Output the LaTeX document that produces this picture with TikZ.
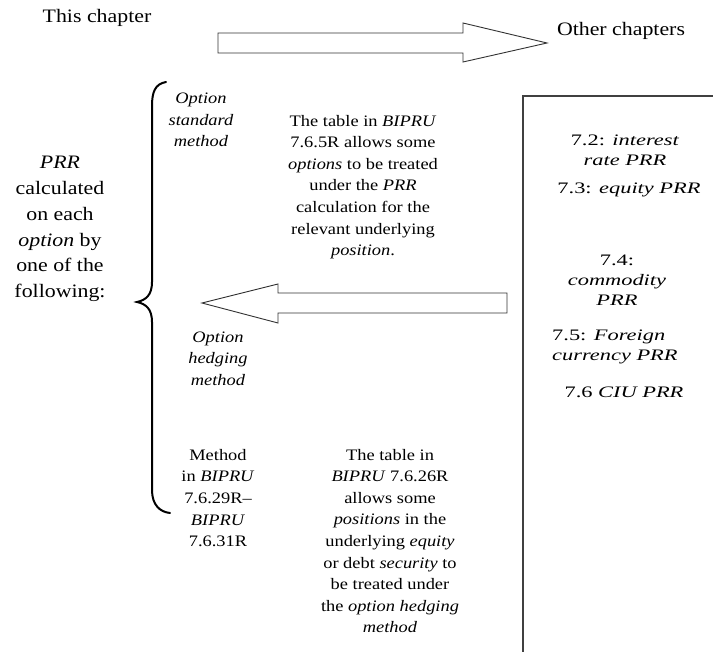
\documentclass[tikz,border=0pt]{standalone}
\usepackage{fontspec}
\setmainfont{Liberation Serif}
\newfontfamily\midfont[FakeStretch=1.15]{Liberation Serif}
\newfontfamily\widefont[FakeStretch=1.4]{Liberation Serif}
\begin{document}
\begin{tikzpicture}[x=1pt,y=-1pt,
  txt/.style={inner sep=0pt, align=center, font=\midfont\fontsize{16}{21.6}\selectfont},
  toptxt/.style={inner sep=0pt, align=center, font=\midfont\fontsize{19}{22}\selectfont},
  lefttxt/.style={inner sep=0pt, align=center, font=\midfont\fontsize{19}{25.7}\selectfont},
  boxtxt/.style={inner sep=0pt, align=center, font=\widefont\fontsize{16}{20}\selectfont},
  blockarrow/.style={draw=black!80, line width=0.9pt, fill=white, line join=miter},
  bracestyle/.style={draw=black, line width=2pt, line cap=round},
  boxline/.style={draw=black!75, line width=1.6pt}]
\useasboundingbox (0,0) rectangle (713,652);
% top labels
\node[toptxt] (this) at (97,18) {This chapter};
\node[toptxt] (other) at (621,31) {Other chapters};
% top block arrow
\draw[blockarrow] (218,33) -- (463,33) -- (463,23) -- (547,43) -- (463,62) -- (463,53) -- (218,53) -- cycle;
% right box
\draw[boxline] (523,660) -- (523,96) -- (720,96);
% left text
\node[lefttxt] (prr) at (60,229) {\textit{PRR}\\calculated\\on each\\\textit{option} by\\one of the\\following:};
% brace
\draw[bracestyle] (166,82) .. controls (155,84) and (152,92) .. (152,106) -- (152,282)
  .. controls (152,295) and (146,300) .. (137,302)
  .. controls (146,304) and (152,309) .. (152,322) -- (152,490)
  .. controls (152,505) and (160,512) .. (170,513);
% option standard method
\node[txt] (osm) at (201,120) {\textit{Option}\\\textit{standard}\\\textit{method}};
\node[txt] (tab1) at (363,187) {The table in \textit{BIPRU}\\7.6.5R allows some\\\textit{options} to be treated\\under the \textit{PRR}\\calculation for the\\relevant underlying\\\textit{position}.};
% left block arrow
\draw[blockarrow] (507,293) -- (278,293) -- (278,284) -- (202,303) -- (278,323) -- (278,313) -- (507,313) -- cycle;
% option hedging method
\node[txt] (ohm) at (218,358.5) {\textit{Option}\\\textit{hedging}\\\textit{method}};
\node[txt] (meth) at (218,498) {Method\\in \textit{BIPRU}\\7.6.29R–\\\textit{BIPRU}\\7.6.31R};
\node[txt] (tab2) at (390,541) {The table in\\\textit{BIPRU} 7.6.26R\\allows some\\\textit{positions} in the\\underlying \textit{equity}\\or debt \textit{security} to\\be treated under\\the \textit{option hedging}\\\textit{method}};
% right box texts
\node[boxtxt] (c72) at (625,150) {7.2: \textit{interest}\\\textit{rate PRR}};
\node[boxtxt] (c73) at (629,190) {7.3: \textit{equity PRR}};
\node[boxtxt] (c74) at (617,280) {7.4:\\\textit{commodity}\\\textit{PRR}};
\node[boxtxt, align=left, anchor=west] (c75) at (552,347) {7.5: \textit{Foreign}\\\textit{currency PRR}};
\node[boxtxt] (c76) at (624,392) {7.6 \textit{CIU PRR}};
\end{tikzpicture}
\end{document}
